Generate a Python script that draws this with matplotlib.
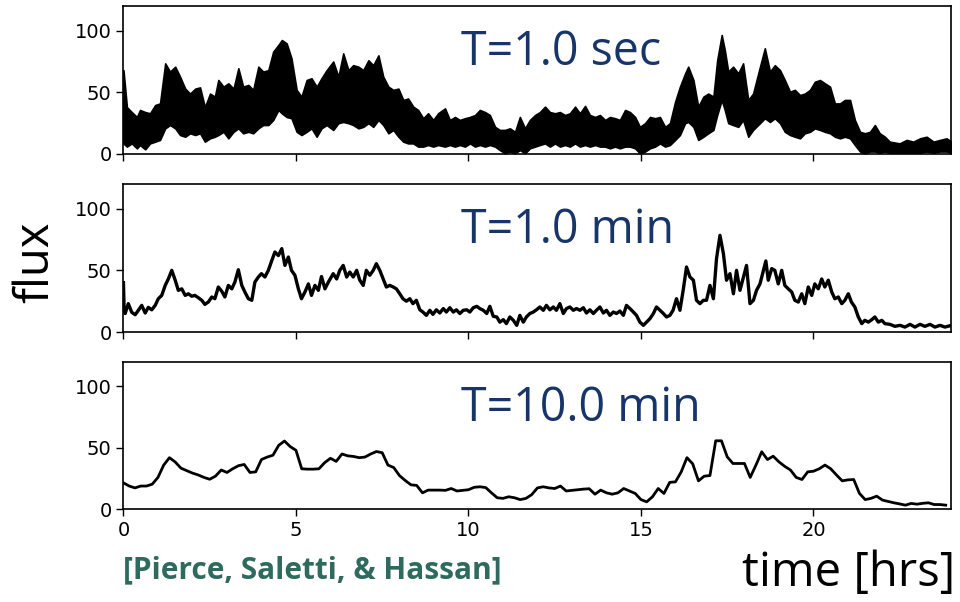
import matplotlib
matplotlib.use("Agg")
import matplotlib.pyplot as plt

# ---- T = 1.0 sec : envelope of the dense 1-second signal (lower / upper) ----
sec_t = [0.0, 0.1, 0.24, 0.39, 0.48, 0.63, 0.77, 0.92, 1.06, 1.21, 1.35, 1.5, 1.64, 1.79, 1.93,
         2.08, 2.22, 2.36, 2.51, 2.65, 2.75, 2.9, 3.04, 3.19, 3.33, 3.47, 3.62, 3.76, 3.91, 4.05,
         4.2, 4.34, 4.49, 4.59, 4.73, 4.87, 5.02, 5.16, 5.31, 5.45, 5.6, 5.74, 5.89, 6.08, 6.23,
         6.37, 6.52, 6.66, 6.81, 6.95, 7.1, 7.24, 7.39, 7.53, 7.68, 7.82, 7.97, 8.11, 8.25, 8.4,
         8.54, 8.69, 8.83, 8.98, 9.12, 9.32, 9.46, 9.61, 9.75, 9.9, 10.04, 10.19, 10.33, 10.48,
         10.62, 10.77, 10.91, 11.06, 11.2, 11.35, 11.49, 11.64, 11.78, 11.93, 12.07, 12.22, 12.36,
         12.51, 12.65, 12.8, 12.94, 13.09, 13.23, 13.38, 13.52, 13.67, 13.81, 13.96, 14.1, 14.25,
         14.39, 14.54, 14.68, 14.83, 14.97, 15.12, 15.26, 15.41, 15.55, 15.7, 15.84, 15.99, 16.13,
         16.28, 16.37, 16.52, 16.66, 16.81, 16.95, 17.1, 17.21, 17.34, 17.43, 17.53, 17.67, 17.82,
         17.96, 18.11, 18.25, 18.45, 18.59, 18.74, 18.88, 19.03, 19.17, 19.32, 19.46, 19.61, 19.75,
         19.9, 20.04, 20.19, 20.33, 20.48, 20.62, 20.77, 20.91, 21.06, 21.2, 21.35, 21.49, 21.64,
         21.78, 21.92, 22.07, 22.21, 22.5, 22.7, 22.89, 23.09, 23.28, 23.48, 23.67, 23.86, 24.0]
sec_hi = [68, 38, 34, 30, 35.7, 34, 33, 39.7, 41, 73.5, 66.8, 70.8, 62.7, 53, 49,
          53, 54, 38, 49, 46.5, 60, 54.6, 57.3, 53, 69.5, 54.6, 56, 52, 70.8, 66.8,
          68, 83, 88.4, 92.4, 89.7, 77.6, 52, 46.5, 60, 61.4, 54.6, 61.4, 68, 75, 62.7,
          81.6, 68, 72, 70.8, 68, 76, 72, 80, 62.7, 54.6, 52, 53, 43.8, 45, 38.4,
          35.7, 29, 33, 27.6, 33, 37, 27.6, 30, 27.6, 29, 30, 31.6, 35.7, 34,
          31.6, 22, 19.5, 19.5, 20.8, 18, 30, 20.8, 27.6, 31.6, 34, 38.4, 34,
          33, 34, 31.6, 33, 38.4, 33, 39, 31.6, 30, 31.6, 27.6, 30, 29,
          27.6, 35.7, 34, 30, 22, 25, 30, 29, 30, 22, 25, 42.4, 54.6,
          65.4, 70.8, 60, 38.4, 46.5, 49, 46.5, 76, 96.5, 84.3, 66.8, 70.8, 65.4,
          73.5, 43.8, 49, 70.8, 85.7, 66.8, 72, 68, 60, 50.5, 52, 47.8, 49,
          52, 58.6, 60, 57.3, 54.6, 41, 41, 43.8, 43.8, 27.6, 18, 16.8, 18,
          23.5, 16.8, 14, 10, 8.6, 11.4, 10, 12.7, 14, 10, 11.4, 12.7, 10]
sec_lo = [8.6, 6, 8.6, 4.6, 7.3, 3.8, 8.6, 10, 11.4, 20.8, 23.5, 20.8, 15.4, 14, 16.8,
          15.4, 16.8, 10, 12.7, 14, 15.4, 18, 12.7, 18, 20.8, 16.8, 18, 16.8, 20.8, 23.5,
          23.5, 27.6, 35.7, 33, 30, 29, 18, 15.4, 18, 20.8, 14, 20.8, 23.5, 19.5, 25,
          26, 25, 23.5, 20.8, 22, 25, 22, 27.6, 23.5, 16.8, 19.5, 14, 10, 8.6, 8.6,
          6, 6, 7.3, 6, 7.3, 6, 7.3, 6, 7.3, 6, 8.6, 6, 7.3, 6,
          7.3, 6, 3.2, 0.5, 2, 0.5, 3.2, 0.5, 4.6, 6, 7.3, 8.6, 6,
          8.6, 6, 7.3, 6, 8.6, 6, 7.3, 6, 7.3, 6, 6, 4.6, 6,
          4.6, 6, 6, 4.6, 0.5, 2, 4.6, 6, 8.6, 6, 7.3, 11.4, 15.4,
          25, 26, 22, 11.4, 14, 16.8, 19.5, 31.6, 43.8, 35.7, 25, 23.5, 22,
          27.6, 14, 19.5, 25, 29, 26, 29, 25, 18, 15.4, 14, 12.7, 16.8,
          18, 20.8, 19.5, 18, 16.8, 14, 12.7, 14, 12.7, 7.3, 2, 0.5, 2,
          2, 1, 2, 1, 1, 1, 1, 1, 2, 1, 2, 2, 1]

# ---- T = 1.0 min ----
min_t = [0.0, 0.02, 0.05, 0.14, 0.24, 0.34, 0.43, 0.53, 0.63, 0.72, 0.82, 0.92, 1.01, 1.11,
         1.21, 1.3, 1.4, 1.5, 1.59, 1.69, 1.79, 1.88, 1.98, 2.07, 2.17, 2.27, 2.36, 2.46, 2.56,
         2.65, 2.75, 2.85, 2.94, 3.04, 3.14, 3.23, 3.33, 3.43, 3.52, 3.62, 3.72, 3.81, 3.91, 4.0,
         4.1, 4.2, 4.3, 4.39, 4.49, 4.59, 4.68, 4.78, 4.87, 4.97, 5.07, 5.16, 5.26, 5.36, 5.45,
         5.55, 5.65, 5.74, 5.84, 5.94, 6.08, 6.18, 6.27, 6.37, 6.47, 6.56, 6.66, 6.76, 6.85,
         6.95, 7.04, 7.14, 7.24, 7.33, 7.43, 7.53, 7.62, 7.72, 7.82, 7.91, 8.01, 8.1, 8.2, 8.3,
         8.39, 8.49, 8.59, 8.68, 8.78, 8.88, 8.97, 9.07, 9.17, 9.27, 9.36, 9.46, 9.56, 9.65,
         9.75, 9.85, 9.95, 10.04, 10.14, 10.24, 10.33, 10.43, 10.53, 10.62, 10.72, 10.82, 10.91,
         11.01, 11.1, 11.2, 11.3, 11.4, 11.49, 11.59, 11.68, 11.78, 11.88, 11.97, 12.07, 12.17,
         12.26, 12.36, 12.46, 12.55, 12.65, 12.75, 12.84, 12.94, 13.04, 13.13, 13.23, 13.33,
         13.42, 13.52, 13.62, 13.71, 13.81, 13.91, 14.0, 14.1, 14.2, 14.29, 14.39, 14.49, 14.58,
         14.68, 14.78, 14.87, 14.97, 15.07, 15.16, 15.26, 15.36, 15.45, 15.55, 15.65, 15.74,
         15.84, 15.93, 16.03, 16.13, 16.23, 16.32, 16.42, 16.52, 16.61, 16.71, 16.81, 16.9, 17.0,
         17.1, 17.19, 17.29, 17.39, 17.48, 17.58, 17.68, 17.77, 17.87, 17.97, 18.06, 18.16,
         18.26, 18.35, 18.45, 18.55, 18.62, 18.69, 18.79, 18.88, 18.98, 19.08, 19.17, 19.27,
         19.37, 19.46, 19.56, 19.66, 19.75, 19.85, 19.95, 20.04, 20.14, 20.24, 20.33, 20.43,
         20.53, 20.62, 20.72, 20.82, 20.91, 21.01, 21.1, 21.2, 21.3, 21.4, 21.49, 21.59, 21.69,
         21.78, 21.88, 21.98, 22.07, 22.22, 22.36, 22.51, 22.65, 22.8, 22.94, 23.09, 23.23,
         23.38, 23.52, 23.67, 23.81, 23.96]
min_v = [40, 17.5, 15, 23, 16, 14, 17.5, 21.6, 15.4, 20, 18, 21.6, 27, 29.7,
         37.8, 43, 50, 42, 33.8, 35, 29.7, 31, 29, 29.7, 27.8, 25.7, 22.4, 24.3, 28.4,
         27, 36.5, 33, 28.4, 37.8, 35, 40.5, 50.5, 37.8, 32.4, 27, 25.7, 40.5, 44.6, 47.3,
         44.6, 50, 58, 64.9, 62, 67.6, 54, 60.8, 50, 46, 35, 27, 32.4, 39, 29.7,
         37.8, 33.8, 45, 35, 40.5, 47.3, 43, 50, 54, 44.6, 48.6, 44.6, 50, 42,
         37.8, 50, 46, 50, 55.4, 50, 43, 36.5, 37.8, 36.5, 35, 31, 27, 25, 27,
         23, 25.7, 18, 16.2, 13.5, 17.6, 14.3, 18, 15.4, 19, 16.2, 19.7, 16.2, 18,
         15, 17.6, 18, 16.2, 19.7, 20.8, 19, 17.6, 15, 20.8, 12.7, 12.2, 8,
         10, 6.8, 12.2, 9.5, 5.4, 13.5, 8, 12.2, 15, 16.2, 18, 20.3, 17.6,
         21.6, 18, 20.3, 17.6, 23, 15, 19, 20.3, 17.6, 19, 17.6, 19.7,
         15.4, 18, 15, 17.6, 20.3, 15.4, 17.6, 13.5, 16.2, 15, 17, 13.5, 21.6,
         19, 16.2, 13.5, 8, 5.4, 8, 10.8, 15, 20.3, 17.6, 15, 12.2,
         13.5, 17.6, 27, 17.6, 35, 52.7, 44.6, 42, 25.7, 23, 25.7, 25.7, 37.8,
         27, 59.5, 78.4, 63.5, 42, 47.3, 31, 50, 33.8, 44.6, 54, 23,
         25.7, 33.8, 39, 50, 57.6, 42, 51.4, 50, 39, 50, 37.8, 35,
         32.4, 25.7, 24.3, 31, 23, 36.5, 29.7, 39, 35, 43, 36.5, 42,
         32.4, 27, 28.4, 23, 25.7, 31, 24.3, 20.3, 12.2, 6.8, 9.5, 8, 10,
         12.2, 8, 9.5, 6.8, 6.2, 4.6, 5.4, 4, 6.2, 4, 6.2, 4.6,
         6.2, 4, 5.4, 4, 5.1]

# ---- T = 10.0 min (one value every 10 minutes) ----
ten_v = [21.6, 19, 17.5, 19, 19, 20.5,
         26, 36, 42, 38.5, 33.5, 31.5,
         29.5, 28, 26, 24.5, 27, 32,
         30, 33, 35.5, 36.5, 30, 30.5,
         40.5, 42.5, 44, 52, 55.5, 51,
         48, 33, 32.7, 32.7, 33, 38,
         41.5, 39, 45, 43.5, 43, 42,
         42.5, 45, 47, 46, 36, 34,
         27.5, 23.5, 20, 19.5, 13.5, 15.7,
         15.7, 15.7, 15.5, 17, 15, 15.5,
         16, 18, 18.4, 17.8, 13.5, 9.5,
         9, 10.3, 9.5, 8, 9, 12,
         17.5, 18.4, 17.5, 17, 19, 15,
         15.5, 16, 16.5, 16.8, 12.4, 15.7,
         13.5, 12.4, 13.5, 17, 15, 13,
         8, 6.2, 10.3, 17, 13, 22,
         22.4, 30.5, 42, 37, 23.2, 27,
         27.5, 55.7, 55.7, 42.7, 37.3, 37.3,
         37.3, 26, 36, 46.8, 40.5, 43.2,
         38.6, 35, 32, 26, 24.3, 30.5,
         31, 33, 36, 33, 28, 23.2,
         24, 24.3, 13, 8, 9, 10.8,
         7.6, 6.5, 5.4, 4.5, 3.5, 4.9,
         4.3, 5, 5.4, 4, 4, 3.5]
ten_t = [i / 6 for i in range(len(ten_v))]

labels = ["T=1.0 sec", "T=1.0 min", "T=10.0 min"]
navy = "#173569"
teal = "#2e6b5e"

fig = plt.figure(figsize=(9.6, 6.02), dpi=100)
bottoms = [0.7442, 0.4485, 0.1537]
axes = [fig.add_axes([0.1286, b, 0.8625, 0.2458]) for b in bottoms]

axes[0].fill_between(sec_t, sec_lo, sec_hi, color="black", lw=1.2, edgecolor="black")
axes[1].plot(min_t, min_v, color="black", lw=2.4)
axes[2].plot(ten_t, ten_v, color="black", lw=2)

for ax, lab in zip(axes, labels):
    ax.set_xlim(0, 24)
    ax.set_ylim(0, 120)
    ax.set_yticks([0, 50, 100])
    ax.set_xticks([0, 5, 10, 15, 20])
    ax.tick_params(labelsize=14, length=5, width=1)
    for s in ax.spines.values():
        s.set_linewidth(1.2)
    ax.text(0.408, 0.6, lab, transform=ax.transAxes, fontsize=33.5,
            color=navy, family="Open Sans", va="baseline")
for ax in axes[:2]:
    ax.set_xticklabels([])

fig.text(0.037, 0.565, "flux", rotation=90, fontsize=34, family="Open Sans",
         ha="center", va="center")
fig.text(0.995, 0.048, "time [hrs]", fontsize=34, family="Open Sans",
         ha="right", va="center")
fig.text(0.128, 0.052, "[Pierce, Saletti, & Hassan]", fontsize=21.5, family="Open Sans",
         fontweight="bold", color=teal, ha="left", va="center")

fig.savefig("out.png", dpi=100)
